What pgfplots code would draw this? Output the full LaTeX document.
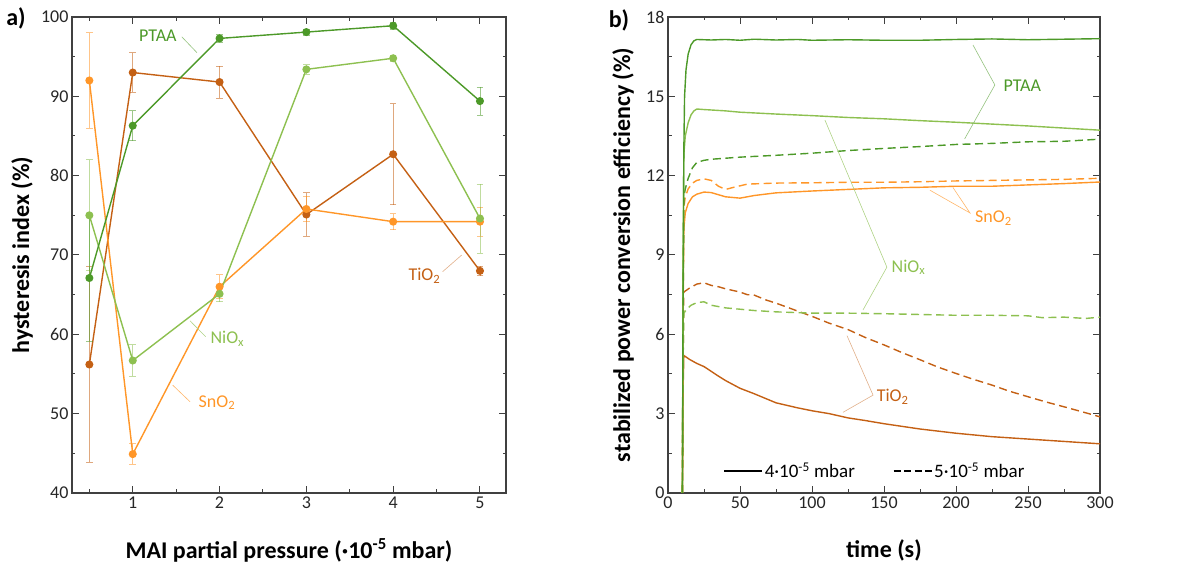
\documentclass[border=0pt]{standalone}
\usepackage{fontspec}
\setmainfont{Carlito}
\usepackage{pgfplots}
\pgfplotsset{compat=1.18}
\definecolor{ptaa}{RGB}{76,153,40}
\definecolor{niox}{RGB}{141,192,80}
\definecolor{sno}{RGB}{255,150,40}
\definecolor{tio}{RGB}{196,96,20}
\definecolor{axc}{RGB}{64,64,64}
\pgfplotsset{
  base/.style={
    scale only axis, axis line style={axc,line width=1.1pt},
    tick style={axc,line width=1.0pt}, tick align=inside,
    major tick length=7pt, minor tick length=3.5pt,
    /pgf/number format/assume math mode=true,
    tick label style={font=\fontsize{18}{20}\selectfont, text=black!85},
    label style={font=\bfseries\fontsize{24}{28}\selectfont},
    clip=true,
  },
  eb/.style={error bars/.cd, y dir=both, y explicit,
    error bar style={line width=0.8pt, opacity=0.55},
    error mark options={rotate=90, mark size=3.3pt, line width=0.8pt, opacity=0.55}},
  lp/.style={color=#1, line width=1.4pt, mark=*, mark size=3.3pt, mark options={fill=#1, draw=#1}},
}
\begin{document}
\begin{tikzpicture}
\path[use as bounding box] (0,0) rectangle (1180pt,567pt);
% ---------------- a)
\begin{axis}[base, at={(72pt,74pt)}, anchor=south west, width=434pt, height=476pt,
  xmin=0.3, xmax=5.3, ymin=40, ymax=100,
  xtick={1,2,3,4,5}, minor xtick={0.5,1.5,2.5,3.5,4.5},
  ytick={40,50,...,100}, minor ytick={45,55,...,95},
  xlabel={MAI partial pressure (·10\textsuperscript{-5} mbar)},
  ylabel={hysteresis index (\%)},
  xlabel style={at={(axis description cs:0.5,-0.12)}, anchor=center},
  ylabel style={at={(axis description cs:-0.115,0.5)}, anchor=center},
]
\addplot[lp=tio, eb, error bar style={color=tio}] coordinates {
 (0.5,56.2) +- (0,12.3) (1,93.0) +- (0,2.5) (2,91.8) +- (0,2.0) (3,75.1) +- (0,2.75) (4,82.7) +- (0,6.35) (5,68.0) +- (0,0.6)};
\addplot[lp=sno, eb, error bar style={color=sno}] coordinates {
 (0.5,92.0) +- (0,6.0) (1,44.9) +- (0,1.3) (2,66.0) +- (0,1.5) (3,75.8) +- (0,1.6) (4,74.2) +- (0,1.0) (5,74.2) +- (0,1.85)};
\addplot[lp=niox, eb, error bar style={color=niox}] coordinates {
 (0.5,75.0) +- (0,7.0) (1,56.7) +- (0,2.0) (2,65.1) +- (0,1.0) (3,93.4) +- (0,0.6) (4,94.8) +- (0,0.4) (5,74.6) +- (0,4.35)};
\addplot[lp=ptaa, eb, error bar style={color=ptaa}] coordinates {
 (0.5,67.1) +- (0,8.0) (1,86.3) +- (0,1.9) (2,97.3) +- (0,0.5) (3,98.1) +- (0,0.4) (4,98.9) +- (0,0.4) (5,89.4) +- (0,1.75)};
% labels
\node[text=ptaa, font=\fontsize{18}{20}\selectfont] at (axis cs:1.29,97.6) {PTAA};
\draw[ptaa!60, line width=0.6pt] (axis cs:1.565,97.5) -- (axis cs:1.74,95.5);
\node[text=niox, font=\fontsize{18}{20}\selectfont] at (axis cs:2.09,59.4) {NiO\textsubscript{x}};
\draw[niox!70, line width=0.6pt] (axis cs:1.84,59.7) -- (axis cs:1.66,61.7);
\node[text=sno, font=\fontsize{18}{20}\selectfont] at (axis cs:1.97,51.4) {SnO\textsubscript{2}};
\draw[sno!70, line width=0.6pt] (axis cs:1.66,51.5) -- (axis cs:1.46,53.6);
\node[text=tio, font=\fontsize{18}{20}\selectfont] at (axis cs:4.36,67.4) {TiO\textsubscript{2}};
\draw[tio!50, line width=0.6pt] (axis cs:4.57,67.9) -- (axis cs:4.79,70.0);
\end{axis}
% ---------------- b)
\begin{axis}[base, at={(668pt,74pt)}, anchor=south west, width=432pt, height=476pt,
  xmin=0, xmax=300, ymin=0, ymax=18,
  xtick={0,50,...,300}, minor xtick={25,75,...,275},
  ytick={0,3,...,18}, minor ytick={1.5,4.5,...,16.5},
  xlabel={time (s)},
  ylabel={stabilized power conversion efficiency (\%)},
  xlabel style={at={(axis description cs:0.5,-0.12)}, anchor=center},
  ylabel style={at={(axis description cs:-0.104,0.5)}, anchor=center},
  legend columns=2,
  legend style={at={(axis description cs:0.479,0.046)}, anchor=center, draw=none, fill=none,
    font=\fontsize{19}{21}\selectfont, /tikz/every even column/.append style={column sep=36pt}},
  legend image code/.code={\draw[#1] (0pt,0pt) -- (38pt,0pt);},
]
\addlegendimage{black, line width=1.3pt}
\addlegendentry{4·10\textsuperscript{-5} mbar}
\addlegendimage{black, line width=1.3pt, dash pattern=on 7pt off 3.5pt}
\addlegendentry{5·10\textsuperscript{-5} mbar}
% TiO2 dashed
\addplot[forget plot, tio, line width=1.4pt, dash pattern=on 8pt off 4.5pt] coordinates {
(10,0) (10.5,5) (11,7.6) (15,7.75) (20,7.9) (25,7.95) (30,7.85) (35,7.8) (40,7.72) (50,7.6) (55,7.5) (60,7.48) (68,7.3) (75,7.18) (90,6.88) (100,6.68) (112,6.42) (125,6.18) (137,5.88) (150,5.6) (162,5.32) (175,5.04) (187,4.77) (200,4.52) (212,4.3) (225,4.08) (237,3.85) (250,3.64) (262,3.45) (275,3.26) (287,3.08) (300,2.88)};
% TiO2 solid
\addplot[forget plot, tio, line width=1.4pt] coordinates {
(10,0) (10.5,4) (11,5.2) (15,5.05) (20,4.9) (25,4.78) (30,4.6) (35,4.42) (40,4.25) (50,3.96) (60,3.75) (75,3.41) (90,3.22) (100,3.11) (112,3.0) (125,2.84) (137,2.74) (150,2.62) (175,2.42) (200,2.26) (225,2.13) (250,2.04) (275,1.95) (300,1.86)};
% NiOx dashed
\addplot[forget plot, niox, line width=1.4pt, dash pattern=on 8pt off 4.5pt] coordinates {
(10,0) (10.5,5) (11,6.8) (13,6.95) (16,7.1) (20,7.2) (25,7.23) (30,7.1) (40,7.0) (50,6.95) (60,6.9) (75,6.85) (100,6.8) (125,6.8) (150,6.78) (175,6.75) (200,6.72) (225,6.72) (250,6.7) (260,6.63) (275,6.65) (290,6.6) (300,6.65)};
% SnO2 dashed
\addplot[forget plot, sno, line width=1.4pt, dash pattern=on 8pt off 4.5pt] coordinates {
(10,0) (10.5,8) (11,10.8) (12,11.2) (14,11.5) (17,11.72) (20,11.82) (25,11.88) (30,11.82) (35,11.6) (40,11.48) (45,11.55) (55,11.68) (65,11.7) (75,11.72) (100,11.73) (125,11.75) (150,11.75) (175,11.77) (200,11.8) (225,11.82) (250,11.84) (275,11.86) (300,11.9)};
% SnO2 solid
\addplot[forget plot, sno, line width=1.4pt] coordinates {
(10,0) (10.5,7) (11,10) (12,10.6) (14,10.95) (17,11.2) (20,11.3) (25,11.38) (30,11.36) (35,11.28) (40,11.2) (50,11.15) (60,11.25) (75,11.35) (100,11.42) (125,11.48) (150,11.54) (175,11.56) (200,11.6) (225,11.6) (250,11.65) (275,11.7) (300,11.76)};
% PTAA dashed
\addplot[forget plot, ptaa, line width=1.4pt, dash pattern=on 8pt off 4.5pt] coordinates {
(10,0) (10.5,7) (11,11.2) (12,11.5) (14,11.9) (17,12.3) (20,12.5) (25,12.58) (30,12.62) (50,12.7) (75,12.77) (100,12.85) (125,12.95) (150,13.03) (175,13.1) (200,13.18) (225,13.22) (250,13.28) (275,13.3) (300,13.38)};
% NiOx solid
\addplot[forget plot, niox, line width=1.4pt] coordinates {
(10,0) (10.5,9) (11,12.8) (12,13.5) (14,14.0) (16,14.3) (18,14.45) (20,14.52) (25,14.5) (40,14.45) (50,14.4) (75,14.33) (100,14.27) (125,14.2) (150,14.15) (175,14.08) (200,14.02) (225,13.95) (250,13.88) (275,13.8) (300,13.72)};
% PTAA solid
\addplot[forget plot, ptaa, line width=1.4pt] coordinates {
(10,0) (10.5,8) (11,13) (11.5,15) (12.5,16) (14,16.6) (16,16.95) (18,17.1) (20,17.15) (30,17.13) (40,17.15) (50,17.12) (60,17.16) (75,17.13) (90,17.15) (100,17.12) (125,17.14) (150,17.12) (175,17.12) (200,17.15) (225,17.17) (250,17.14) (275,17.16) (300,17.18)};
% labels
\node[text=ptaa, font=\fontsize{18}{20}\selectfont] at (axis cs:246,15.39) {PTAA};
\draw[ptaa!60, line width=0.6pt] (axis cs:211.8,16.94) -- (axis cs:227,15.43) -- (axis cs:206,13.39);
\node[text=sno, font=\fontsize{18}{20}\selectfont] at (axis cs:226,10.4) {SnO\textsubscript{2}};
\draw[sno!70, line width=0.6pt] (axis cs:181.9,11.45) -- (axis cs:209.7,10.59) -- (axis cs:197.9,11.55);
\node[text=niox, font=\fontsize{18}{20}\selectfont] at (axis cs:167,8.54) {NiO\textsubscript{x}};
\draw[niox!70, line width=0.6pt] (axis cs:109,14.1) -- (axis cs:152,8.54) -- (axis cs:135.4,6.92);
\node[text=tio, font=\fontsize{18}{20}\selectfont] at (axis cs:156,3.63) {TiO\textsubscript{2}};
\draw[tio!50, line width=0.6pt] (axis cs:124.3,5.95) -- (axis cs:142.4,3.70) -- (axis cs:121.5,3.05);
\end{axis}
\node[font=\bfseries\fontsize{24}{28}\selectfont] at (16pt,549pt) {a)};
\node[font=\bfseries\fontsize{24}{28}\selectfont] at (619pt,547pt) {b)};
\end{tikzpicture}
\end{document}
